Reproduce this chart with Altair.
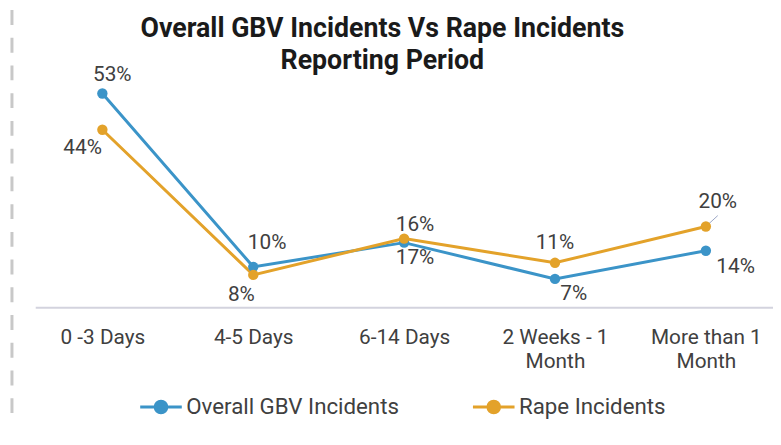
import altair as alt
import pandas as pd

categories = ["0 -3 Days", "4-5 Days", "6-14 Days", "2 Weeks - 1 Month", "More than 1 Month"]
tick_lines = [["0 -3 Days"], ["4-5 Days"], ["6-14 Days"], ["2 Weeks - 1", "Month"], ["More than 1", "Month"]]
series_names = ["Overall GBV Incidents", "Rape Incidents"]
overall = [53, 10, 16, 7, 14]
rape = [44, 8, 17, 11, 20]
colors = ["#3b94c8", "#e3a22a"]

rows = []
for name, vals in zip(series_names, [overall, rape]):
    for c, v in zip(categories, vals):
        rows.append({"period": c, "series": name, "value": v / 100, "label": f"{v}%"})
df = pd.DataFrame(rows)

# label placement offsets (px) for each point, in series order
offsets = {
    "Overall GBV Incidents": [(10, -19), (14, -24), (11, -18), (19, 15), (30, 17)],
    "Rape Incidents": [(-20, 18), (-12, 20), (11, 20), (0, -20), (12, -25)],
}

label_expr = ""
for c, lines in zip(categories, tick_lines):
    if len(lines) > 1:
        arr = "[" + ",".join("'" + l + "'" for l in lines) + "]"
        label_expr += f"datum.label == '{c}' ? {arr} : "
label_expr += "datum.label"

FONT = "Roboto"
sym_path = "M-1,0L1,0M0.28,0A0.28,0.28,0,1,1,-0.28,0A0.28,0.28,0,1,1,0.28,0Z"

x_enc = alt.X(
    "period:N",
    sort=categories,
    scale=alt.Scale(type="point", padding=0.445),
    axis=alt.Axis(
        title=None, labelExpr=label_expr, labelAngle=0, ticks=False, grid=False,
        domainColor="#d3d3de", domainWidth=2, labelFontSize=21, labelColor="#404040",
        labelFont=FONT, labelPadding=20, labelLineHeight=24,
    ),
)
y_enc = alt.Y("value:Q", scale=alt.Scale(domain=[0, 0.56]), axis=None)
legend = alt.Legend(
    title=None, orient="none", legendX=104.5, legendY=306, direction="horizontal",
    symbolType=sym_path, symbolSize=1764, symbolStrokeWidth=3, labelFontSize=22.5,
    labelFont=FONT, labelColor="#404040", columnPadding=68, padding=0, labelOffset=3,
    labelLimit=400, symbolOpacity=1,
)
color_enc = alt.Color("series:N", scale=alt.Scale(domain=series_names, range=colors), legend=legend)

base = alt.Chart(df)

frame = alt.Chart(pd.DataFrame({"k": [0]})).mark_rule(
    color="#c8c8c8", strokeWidth=3, strokeDash=[15, 13]
).encode(x=alt.value(-23.5), y=alt.value(-72), y2=alt.value(342))

leader = base.transform_filter(
    (alt.datum.series == "Rape Incidents") & (alt.datum.period == "More than 1 Month")
).mark_rule(color="#9aa5c4", strokeWidth=1, x2Offset=12, y2Offset=-11).encode(
    x=x_enc, y=y_enc, x2=alt.X2("period:N"), y2=alt.Y2("value:Q")
)

lines = base.mark_line(strokeWidth=3).encode(x=x_enc, y=y_enc, color=color_enc)
points = base.mark_circle(size=110, opacity=1).encode(x=x_enc, y=y_enc, color=color_enc)

text_layers = []
for s in series_names:
    for c, (dx, dy) in zip(categories, offsets[s]):
        t = base.transform_filter(
            (alt.datum.series == s) & (alt.datum.period == c)
        ).mark_text(
            dx=dx, dy=dy, fontSize=21, font=FONT, color="#404040", align="center", baseline="middle"
        ).encode(x=x_enc, y=y_enc, text="label:N")
        text_layers.append(t)

chart = alt.layer(frame, leader, lines, points, *text_layers).properties(
    width=745,
    height=228,
    padding={"left": 27.5, "top": 72, "right": 0, "bottom": 125},
    autosize=alt.AutoSizeParams(type="none"),
    background="white",
    title=alt.TitleParams(
        text=["Overall GBV Incidents Vs Rape Incidents", "Reporting Period"],
        fontSize=27, font=FONT, fontWeight="bold", color="#1a1a1a", lineHeight=32,
        anchor="middle", dx=-22, offset=-67,
    ),
).configure_view(stroke=None)

chart.save("out.html", embed_options={"renderer": "svg", "actions": False})
